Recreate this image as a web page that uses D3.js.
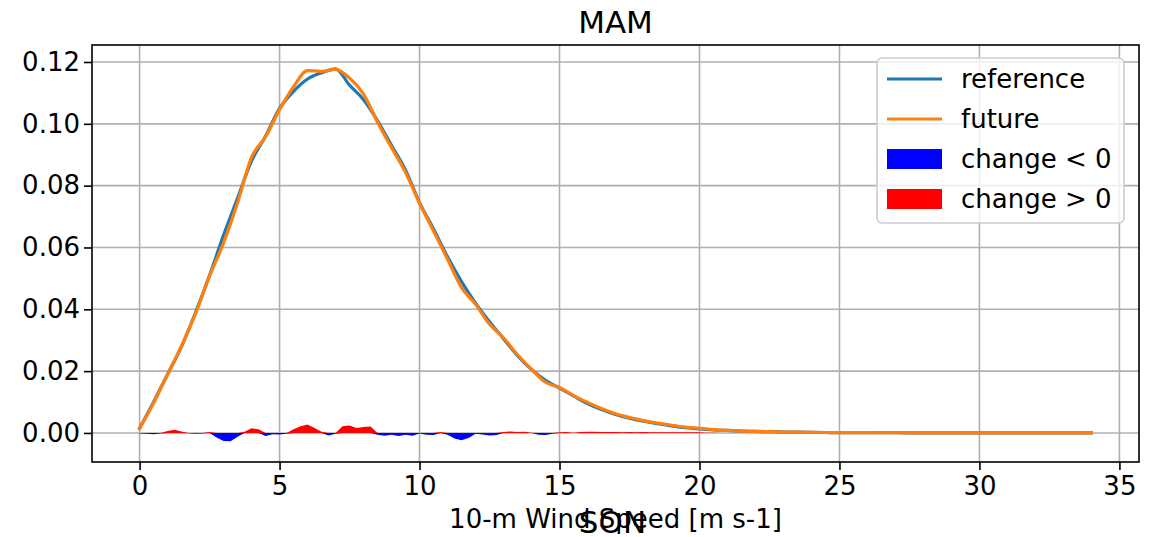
<!DOCTYPE html>
<html>
<head>
<meta charset="utf-8">
<script src="https://cdn.jsdelivr.net/npm/d3@7"></script>
<style>
  html, body { margin: 0; padding: 0; background: #fff; }
  svg { display: block; font-family: "DejaVu Sans", sans-serif; }
</style>
</head>
<body>
<svg id="chart" width="1153" height="537"></svg>
<script>
// Wind speed grid for the two PDFs (m s-1), 0.5 m s-1 bins
const speeds = [0,0.5,1,1.5,2,2.5,3,3.5,4,4.5,5,5.5,6,6.5,7,7.5,8,8.5,9,9.5,10,10.5,11,11.5,12,12.5,13,13.5,14,14.5,15,15.5,16,16.5,17,17.5,18,18.5,19,19.5,20,20.5,21,21.5,22,22.5,23,23.5,24,24.5,25,25.5,26,26.5,27,27.5,28,28.5,29,29.5,30,30.5,31,31.5,32,32.5,33,33.5,34];

// Reference-period PDF
const referencePdf = [0.0015,0.0100,0.0190,0.0280,0.0390,0.0510,0.0640,0.0760,0.0880,0.0960,0.1050,0.1105,0.1145,0.1165,0.1178,0.1125,0.1078,0.1010,0.0930,0.0850,0.0745,0.0660,0.0570,0.0490,0.0420,0.0360,0.0305,0.0250,0.0205,0.0170,0.0145,0.0120,0.0095,0.0076,0.0060,0.0048,0.0038,0.0030,0.0023,0.0017,0.0013,0.0010,0.0008,0.0006,0.0005,0.0004,0.0003,0.00025,0.0002,0.00015,0.0001,0.0001,0.00008,0.00007,0.00006,0.00005,0.00005,0.00004,0.00004,0.00004,0.00003,0.00003,0.00003,0.00003,0.00002,0.00002,0.00002,0.00002,0.00002];

// Future-period PDF
const futurePdf = [0.0015,0.0097,0.0190,0.0282,0.0387,0.0508,0.0615,0.0745,0.0892,0.0958,0.1046,0.1120,0.1172,0.1170,0.1176,0.1148,0.1096,0.1005,0.0923,0.0843,0.0743,0.0653,0.0562,0.0470,0.0416,0.0352,0.0308,0.0253,0.0206,0.0164,0.0147,0.0121,0.0099,0.0079,0.0062,0.0050,0.0040,0.0032,0.0025,0.0019,0.0015,0.0011,0.0008,0.0006,0.0005,0.0004,0.0003,0.00025,0.0002,0.00015,0.0001,0.0001,0.00008,0.00007,0.00006,0.00005,0.00005,0.00004,0.00004,0.00004,0.00003,0.00003,0.00003,0.00003,0.00002,0.00002,0.00002,0.00002,0.00002];

// Future minus reference on a finer 0.25 m s-1 grid
const changeSpeeds = [0,0.25,0.5,0.75,1,1.25,1.5,1.75,2,2.25,2.5,2.75,3,3.25,3.5,3.75,4,4.25,4.5,4.75,5,5.25,5.5,5.75,6,6.25,6.5,6.75,7,7.25,7.5,7.75,8,8.25,8.5,8.75,9,9.25,9.5,9.75,10,10.25,10.5,10.75,11,11.25,11.5,11.75,12,12.25,12.5,12.75,13,13.25,13.5,13.75,14,14.25,14.5,14.75,15,15.25,15.5,15.75,16,16.25,16.5,16.75,17,17.25,17.5,17.75,18,18.25,18.5,18.75,19,19.25,19.5,19.75,20,20.25,20.5,20.75,21,34];
const change = [-0.0002,-0.0003,-0.0004,-0.0002,0.0006,0.0010,0.0005,-0.0001,-0.0003,-0.0002,0.0003,-0.0015,-0.0026,-0.0027,-0.0012,0.0004,0.0015,0.0012,-0.0010,-0.0004,-0.0005,-0.0003,0.0012,0.0022,0.0027,0.0016,0.0004,-0.0008,-0.0003,0.0022,0.0024,0.0016,0.0019,0.0021,-0.0006,-0.0009,-0.0006,-0.0010,-0.0006,-0.0009,-0.0002,-0.0006,-0.0007,0.0003,-0.0006,-0.0018,-0.0024,-0.0016,-0.0003,-0.0005,-0.0008,-0.0007,0.0003,0.0005,0.0003,0.0004,0.0001,-0.0006,-0.0007,-0.0003,0.0002,0.0003,0.0001,0.0003,0.0004,0.0004,0.0003,0.0003,0.0003,0.0002,0.0003,0.0002,0.0003,0.0002,0.0002,0.0002,0.0002,0.0002,0.0002,0.0002,0.0002,0.0001,0.0001,0.0,0.0,0.0];

const xTicks = [0,5,10,15,20,25,30,35];
const yTicks = [0.00,0.02,0.04,0.06,0.08,0.10,0.12];

const title = "MAM";
const nextTitle = "SON";
const xLabel = "10-m Wind Speed [m s-1]";
const legendItems = [
  {label: "reference", kind: "line", color: "#1f77b4"},
  {label: "future", kind: "line", color: "#ff7f0e"},
  {label: "change < 0", kind: "patch", color: "#0000ff"},
  {label: "change > 0", kind: "patch", color: "#ff0000"}
];

const FS = 26;      // tick, legend and axis-label font size
const TITLE_FS = 31;

const svg = d3.select("#chart");
const plot = {left: 92, right: 1139, top: 45, bottom: 462};

const x = d3.scaleLinear().domain([-1.7, 35.7]).range([plot.left, plot.right]);
const y = d3.scaleLinear().domain([-0.0094, 0.1255]).range([plot.bottom, plot.top]);

const g = svg.append("g");

// grid
g.append("g").selectAll("line").data(xTicks).join("line")
  .attr("x1", d => x(d)).attr("x2", d => x(d))
  .attr("y1", plot.top).attr("y2", plot.bottom)
  .attr("stroke", "#b0b0b0").attr("stroke-width", 1.6);
g.append("g").selectAll("line").data(yTicks).join("line")
  .attr("x1", plot.left).attr("x2", plot.right)
  .attr("y1", d => y(d)).attr("y2", d => y(d))
  .attr("stroke", "#b0b0b0").attr("stroke-width", 1.6);

// change fills (red above zero, blue below)
const changeData = changeSpeeds.map((s, i) => ({s, v: change[i]}));
g.append("clipPath").attr("id", "plotclip").append("rect")
  .attr("x", plot.left).attr("y", plot.top)
  .attr("width", plot.right - plot.left).attr("height", plot.bottom - plot.top);

const posArea = d3.area().x(d => x(d.s)).y0(y(0)).y1(d => y(Math.max(d.v, 0)));
const negArea = d3.area().x(d => x(d.s)).y0(y(0)).y1(d => y(Math.min(d.v, 0)));
const fills = g.append("g").attr("clip-path", "url(#plotclip)");
fills.append("path").datum(changeData).attr("d", negArea).attr("fill", "#0000ff");
fills.append("path").datum(changeData).attr("d", posArea).attr("fill", "#ff0000");

// PDF lines
const line = d3.line().curve(d3.curveMonotoneX).x(d => x(d[0])).y(d => y(d[1]));
const lines = g.append("g").attr("clip-path", "url(#plotclip)");
lines.append("path").datum(speeds.map((s, i) => [s, referencePdf[i]]))
  .attr("d", line).attr("fill", "none").attr("stroke", "#1f77b4")
  .attr("stroke-width", 3.2).attr("stroke-linejoin", "round").attr("stroke-linecap", "square");
lines.append("path").datum(speeds.map((s, i) => [s, futurePdf[i]]))
  .attr("d", line).attr("fill", "none").attr("stroke", "#ff7f0e")
  .attr("stroke-width", 3.2).attr("stroke-linejoin", "round").attr("stroke-linecap", "square");

// axes
const xAxis = d3.axisBottom(x).tickValues(xTicks).tickFormat(d3.format("d")).tickSize(8).tickPadding(7);
const yAxis = d3.axisLeft(y).tickValues(yTicks).tickFormat(d3.format(".2f")).tickSize(8).tickPadding(4);

const gx = svg.append("g").attr("transform", `translate(0,${plot.bottom})`).call(xAxis);
const gy = svg.append("g").attr("transform", `translate(${plot.left},0)`).call(yAxis);
[gx, gy].forEach(a => {
  a.select(".domain").remove();
  a.selectAll(".tick line").attr("stroke", "#000").attr("stroke-width", 1.6);
  a.selectAll(".tick text").attr("fill", "#000").style("font-size", FS + "px")
    .style("font-family", "'DejaVu Sans', sans-serif");
});

// frame
svg.append("rect").attr("x", plot.left).attr("y", plot.top)
  .attr("width", plot.right - plot.left).attr("height", plot.bottom - plot.top)
  .attr("fill", "none").attr("stroke", "#000").attr("stroke-width", 1.6);

// legend
const lg = svg.append("g").attr("transform", "translate(877,58)");
lg.append("rect").attr("width", 247).attr("height", 165).attr("rx", 5)
  .attr("fill", "#fff").attr("fill-opacity", 0.8)
  .attr("stroke", "#cccccc").attr("stroke-width", 1.6);
legendItems.forEach((it, i) => {
  const cy = 21 + i * 40;
  if (it.kind === "line") {
    lg.append("line").attr("x1", 10).attr("x2", 65).attr("y1", cy).attr("y2", cy)
      .attr("stroke", it.color).attr("stroke-width", 3.2);
  } else {
    lg.append("rect").attr("x", 10).attr("y", cy - 10).attr("width", 55).attr("height", 20)
      .attr("fill", it.color);
  }
  lg.append("text").attr("x", 84).attr("y", cy).attr("dy", "0.35em")
    .style("font-size", FS + "px").attr("fill", "#000").text(it.label);
});

// titles and axis label
const cx = (plot.left + plot.right) / 2;
svg.append("text").attr("x", cx).attr("y", 33).attr("text-anchor", "middle")
  .style("font-size", TITLE_FS + "px").attr("fill", "#000").text(title);
svg.append("text").attr("x", cx).attr("y", 528).attr("text-anchor", "middle")
  .style("font-size", FS + "px").attr("fill", "#000").text(xLabel);
svg.append("text").attr("x", cx - 3).attr("y", 533).attr("text-anchor", "middle")
  .style("font-size", TITLE_FS + "px").attr("fill", "#000").text(nextTitle);
</script>
</body>
</html>
